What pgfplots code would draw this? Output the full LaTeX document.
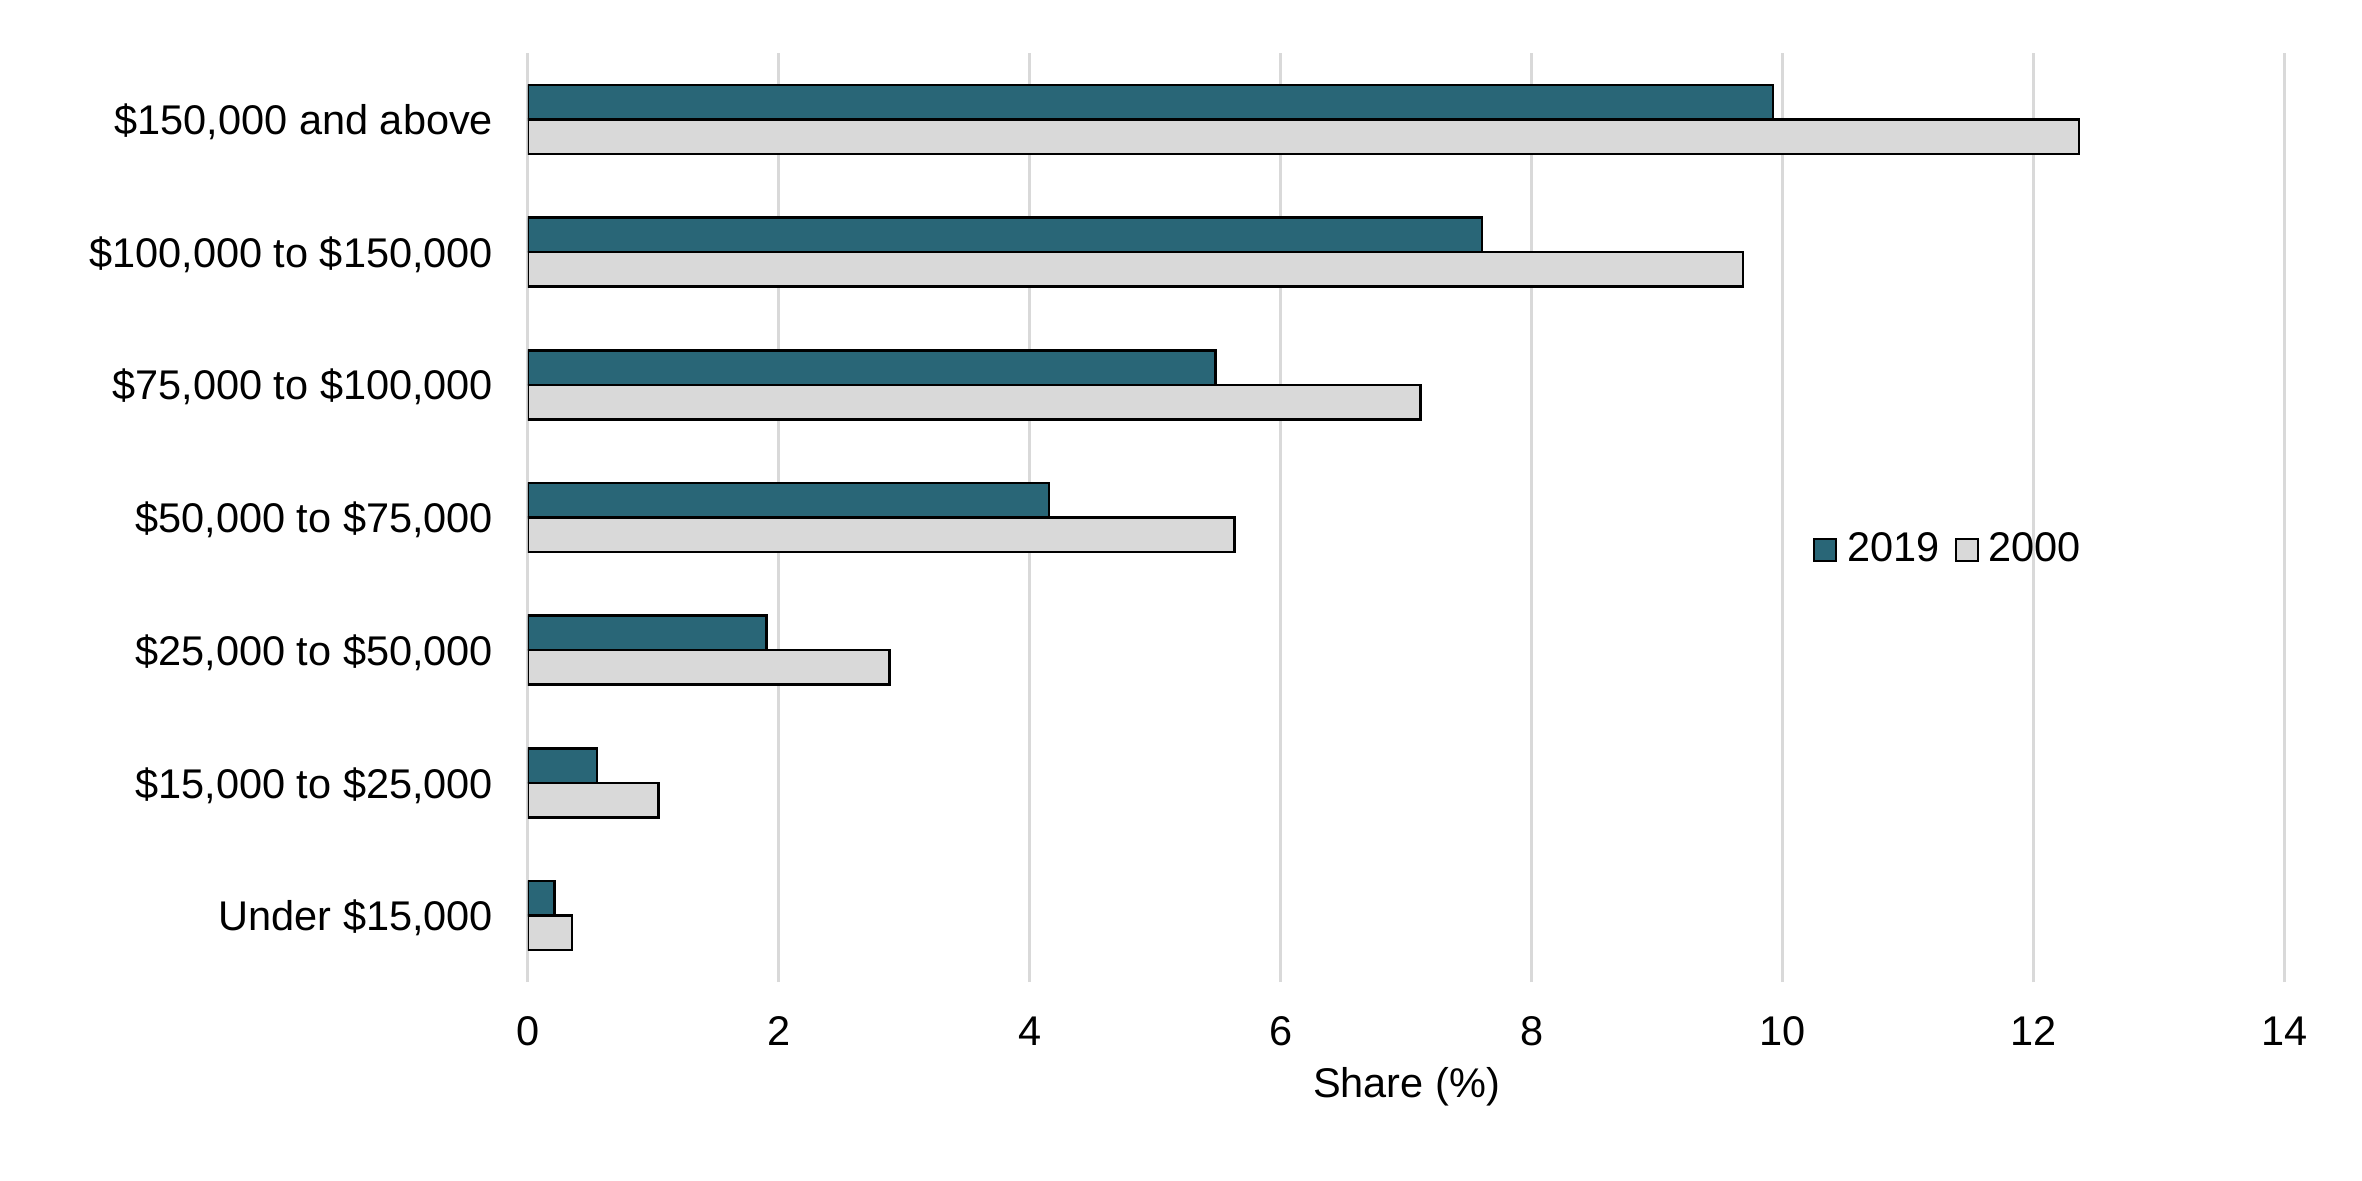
\documentclass[border=0pt]{standalone}
\usepackage{fontspec}
\setmainfont{Liberation Sans}
\usepackage{pgfplots}
\pgfplotsset{compat=1.18}
\definecolor{teal19}{HTML}{296677}
\definecolor{gray00}{HTML}{D9D9D9}
\definecolor{gridc}{HTML}{D9D9D9}
\newcommand{\lf}{\fontsize{8.3}{10}\selectfont}
\begin{document}
\lf
\begin{tikzpicture}
\begin{axis}[
  at={(0,0)}, anchor=south west, scale only axis,
  width=351.4pt, height=185.8pt,
  xbar, bar width=0.26,
  xmin=0, xmax=14, ymin=-0.5, ymax=6.5,
  xtick={0,2,...,14}, ytick={0,1,2,3,4,5,6},
  yticklabels={{Under \$15,000},{\$15,000 to \$25,000},{\$25,000 to \$50,000},{\$50,000 to \$75,000},{\$75,000 to \$100,000},{\$100,000 to \$150,000},{\$150,000 and above}},
  axis line style={draw=none},
  major tick length=0pt,
  xmajorgrids, grid style={gridc, line width=0.6pt},
  /pgf/number format/assume math mode=true,
  tick label style={font=\lf},
  xticklabel style={yshift=-4pt},
  yticklabel style={xshift=-4pt, yshift=-0.5pt},
  xlabel={Share (\%)},
  xlabel style={font=\lf, at={(axis description cs:0.5,0)}, anchor=center, yshift=-21pt},
  legend style={at={(0.731,0.465)}, anchor=west, draw=none, fill=none, inner sep=0pt,
    legend columns=2, font=\lf,
    /tikz/every even column/.append style={column sep=1pt}},
]
\addplot[fill=teal19, draw=black, line width=0.5pt, bar shift=0.13,
  legend image code/.code={\draw[fill=teal19, draw=black, line width=0.4pt] (0pt,-2.2pt) rectangle (4.4pt,2.2pt);}]
  coordinates {(0.21,0) (0.55,1) (1.90,2) (4.15,3) (5.48,4) (7.60,5) (9.92,6)};
\addlegendentry{2019}
\addplot[fill=gray00, draw=black, line width=0.5pt, bar shift=-0.13,
  legend image code/.code={\draw[fill=gray00, draw=black, line width=0.4pt] (0pt,-2.2pt) rectangle (4.4pt,2.2pt);}]
  coordinates {(0.35,0) (1.04,1) (2.88,2) (5.63,3) (7.11,4) (9.68,5) (12.36,6)};
\addlegendentry{2000}
\end{axis}
\pgfresetboundingbox
\path (-105.6pt,-39.8pt) rectangle (366.8pt,196.4pt);
\end{tikzpicture}
\end{document}
